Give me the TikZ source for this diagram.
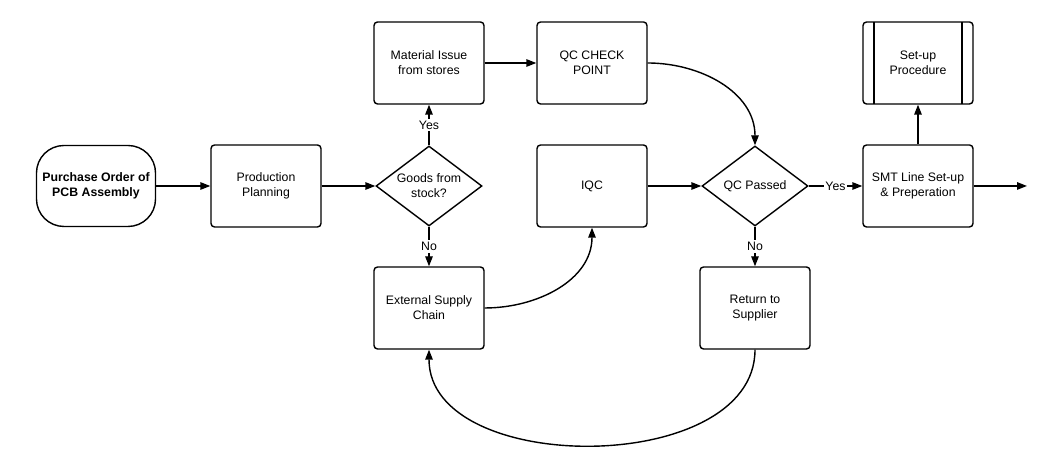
\documentclass[tikz,border=0pt]{standalone}
\usepackage{fontspec}
\setmainfont{Liberation Sans}
\usepackage{tikz}
\usetikzlibrary{arrows.meta,positioning,shapes.geometric}

\begin{document}
\begin{tikzpicture}[
  font=\fontsize{7}{8.5}\selectfont,
  line width=0.8pt,
  terminal/.style={draw, rectangle, rounded corners=0.55cm, align=center, minimum width=2.38cm, minimum height=1.62cm, font=\fontsize{7}{8.5}\selectfont\bfseries},
  process/.style={draw, rectangle, rounded corners=2pt, align=center, minimum width=2.2cm, minimum height=1.64cm, inner sep=2pt},
  predef/.style={process, path picture={
    \draw[line width=0.8pt] ([xshift=0.22cm]path picture bounding box.north west) -- ([xshift=0.22cm]path picture bounding box.south west);
    \draw[line width=0.8pt] ([xshift=-0.22cm]path picture bounding box.north east) -- ([xshift=-0.22cm]path picture bounding box.south east);}},
  decision/.style={draw, diamond, aspect=1.33, align=center, minimum width=2.12cm, minimum height=1.6cm, inner sep=0pt},
  flow/.style={-{Triangle[length=2mm,width=1.5mm]}},
  lab/.style={fill=white, inner sep=1pt}
]
\useasboundingbox (0,0) rectangle (20.98,9.28);
\node[terminal] (order) at (1.92,5.56) {Purchase Order of\\PCB Assembly};
\node[process] (plan) at (5.32,5.56) {Production\\Planning};
\node[decision] (stock) at (8.58,5.56) {Goods from\\stock?};
\node[process] (issue) at (8.58,8.02) {Material Issue\\from stores};
\node[process] (check) at (11.84,8.02) {QC CHECK\\POINT};
\node[process] (iqc) at (11.84,5.56) {IQC};
\node[decision] (passed) at (15.10,5.56) {QC Passed};
\node[process] (smt) at (18.36,5.56) {SMT Line Set-up\\\& Preperation};
\node[predef] (setup) at (18.36,8.02) {Set-up\\Procedure};
\node[process] (supply) at (8.58,3.12) {External Supply\\Chain};
\node[process] (ret) at (15.10,3.12) {Return to\\Supplier};
\coordinate (out) at (20.54,5.56);
\foreach \a/\b in {order/plan,plan/stock,issue/check,iqc/passed,smt/setup,smt/out}{\draw[flow] (\a) -- (\b);}
\draw[flow] (stock.north) -- node[lab]{Yes} (issue.south);
\draw[flow] (stock.south) -- node[lab]{No} (supply.north);
\draw[flow] (passed.east) -- node[lab]{Yes} (smt.west);
\draw[flow] (passed.south) -- node[lab]{No} (ret.north);
\draw[flow] (check.east) to[out=0,in=90] (passed.north);
\draw[flow] (supply.east) to[out=0,in=-90] (iqc.south);
\draw[flow] (ret.south) to[out=-90,in=-90] (supply.south);
\end{tikzpicture}
\end{document}
